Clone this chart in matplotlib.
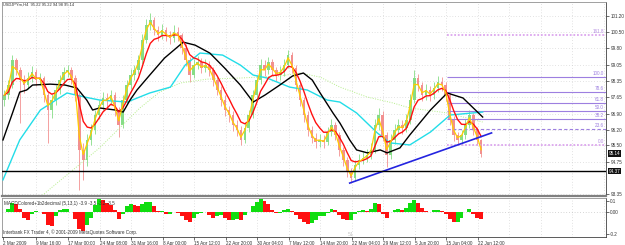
import matplotlib
matplotlib.use('Agg')
import matplotlib.pyplot as plt
import numpy as np
import pandas as pd

plt.rcParams['font.family'] = ['Liberation Sans', 'DejaVu Sans']

# USDJPYm H4, 2 Mar - 22 Jun 2009, bars grouped by four
first_open = 97.50
close = [97.72, 98.16, 99.26, 98.82, 98.38, 98.16, 98.47, 98.73, 98.38, 98.47,
         97.72, 97.06, 97.50, 97.94, 98.38, 98.73, 98.82, 98.47, 97.72, 95.30,
         94.86, 95.74, 96.18, 96.84, 97.28, 97.59, 97.50, 97.72, 97.06, 96.40,
         97.50, 98.16, 98.60, 98.82, 99.26, 100.14, 100.80, 101.02, 100.58, 100.36,
         100.58, 100.36, 100.23, 100.50, 100.36, 99.79, 99.26, 98.60, 99.04, 99.17,
         98.91, 99.04, 98.82, 98.38, 97.94, 97.50, 97.06, 96.84, 96.40, 96.18,
         95.74, 96.27, 96.84, 97.72, 98.38, 99.04, 98.82, 99.17, 98.82, 98.60,
         98.73, 99.04, 99.48, 98.91, 98.16, 97.50, 96.84, 96.18, 95.83, 95.65,
         95.74, 95.65, 96.09, 96.40, 95.96, 95.30, 94.86, 94.33, 94.06, 94.64,
         94.86, 94.94, 95.08, 95.30, 96.40, 96.84, 95.96, 95.08, 95.74, 96.18,
         96.40, 96.27, 96.62, 97.50, 98.47, 98.16, 97.72, 97.94, 97.72, 98.03,
         98.29, 98.16, 97.72, 96.62, 95.96, 95.74, 95.96, 96.40, 96.84, 96.18,
         95.74, 95.14]
high = [97.95, 98.40, 99.48, 99.35, 98.95, 98.60, 98.75, 99.00, 98.85, 98.70,
        98.55, 97.85, 97.75, 98.15, 98.60, 98.95, 99.04, 98.95, 98.60, 97.85,
        95.60, 96.00, 96.45, 97.05, 97.50, 97.85, 97.80, 97.95, 97.85, 97.20,
        97.70, 98.40, 98.85, 99.05, 99.50, 100.40, 101.05, 101.33, 101.15, 100.75,
        100.85, 100.70, 100.55, 100.80, 100.70, 100.45, 99.95, 99.40, 99.30, 99.45,
        99.35, 99.30, 99.20, 98.95, 98.50, 98.10, 97.70, 97.25, 97.00, 96.60,
        96.35, 96.50, 97.05, 97.95, 98.60, 99.30, 99.25, 99.40, 99.30, 98.95,
        99.00, 99.30, 99.70, 99.60, 99.05, 98.30, 97.65, 97.00, 96.35, 96.05,
        96.00, 95.95, 96.30, 96.65, 96.55, 96.10, 95.45, 95.00, 94.50, 94.85,
        95.10, 95.20, 95.35, 95.60, 96.65, 97.15, 97.00, 96.10, 96.00, 96.45,
        96.65, 96.60, 96.90, 97.75, 98.82, 98.65, 98.30, 98.20, 98.10, 98.30,
        98.55, 98.50, 98.30, 97.85, 96.80, 96.10, 96.20, 96.65, 97.05, 96.95,
        96.30, 95.80]
low = [97.25, 97.55, 98.05, 98.60, 96.50, 97.80, 98.00, 98.30, 98.10, 98.15,
       97.40, 95.60, 96.70, 97.30, 97.75, 98.20, 98.50, 98.20, 97.45, 93.53,
       93.98, 94.60, 95.50, 96.00, 96.65, 97.05, 97.20, 97.30, 96.80, 95.87,
       96.25, 97.35, 98.00, 98.40, 98.65, 99.10, 100.00, 100.60, 100.35, 100.10,
       100.20, 100.10, 99.95, 100.05, 100.10, 99.55, 99.00, 98.30, 98.45, 98.85,
       98.70, 98.75, 98.55, 98.10, 97.70, 97.25, 96.80, 96.55, 96.15, 95.90,
       95.52, 95.60, 96.10, 96.70, 97.55, 98.20, 98.55, 98.65, 98.55, 98.35,
       98.40, 98.55, 98.90, 98.70, 97.90, 97.25, 96.55, 95.90, 95.60, 95.40,
       95.45, 95.40, 95.50, 95.90, 95.75, 95.05, 94.60, 94.10, 93.84, 93.95,
       94.45, 94.70, 94.75, 94.90, 95.15, 96.20, 95.70, 94.55, 94.90, 95.55,
       96.00, 96.00, 96.10, 96.45, 97.35, 97.90, 97.45, 97.50, 97.45, 97.55,
       97.85, 97.90, 97.45, 96.40, 95.70, 95.50, 95.55, 95.80, 96.25, 95.95,
       95.50, 94.98]
macd = [0.00, 0.03, 0.08, 0.07, 0.03, -0.05, -0.07, -0.02, 0.01, 0.00,
        -0.02, -0.12, -0.13, -0.04, 0.02, 0.03, 0.03, 0.00, -0.06, -0.15,
        -0.17, -0.12, -0.05, 0.06, 0.12, 0.11, 0.08, 0.06, 0.02, -0.06,
        -0.02, 0.05, 0.07, 0.06, 0.05, 0.07, 0.09, 0.09, 0.05, 0.01,
        0.01, -0.02, -0.02, 0.00, -0.01, -0.04, -0.07, -0.09, -0.05, -0.02,
        -0.01, 0.00, -0.03, -0.05, -0.04, -0.03, -0.05, -0.07, -0.07, -0.06,
        -0.07, -0.03, 0.00, 0.05, 0.09, 0.12, 0.10, 0.07, 0.02, -0.01,
        -0.01, 0.02, 0.03, 0.01, -0.03, -0.06, -0.09, -0.11, -0.10, -0.07,
        -0.04, -0.04, -0.01, 0.03, 0.02, -0.03, -0.06, -0.07, -0.07, -0.02,
        0.01, 0.02, 0.01, 0.03, 0.08, 0.07, -0.02, -0.05, 0.00, 0.02,
        0.03, 0.02, 0.04, 0.08, 0.11, 0.08, 0.04, 0.01, 0.00, 0.02,
        0.02, 0.01, -0.02, -0.06, -0.09, -0.09, -0.05, 0.00, 0.03, -0.02,
        -0.05, -0.06]

# slow moving averages (bar index, price)
black_bar = [0, 10, 17, 24, 30, 48, 63, 75, 85, 91, 98, 114, 122, 129, 136, 149, 164,
             183, 195, 210, 225, 241, 254, 266, 281, 294, 305, 314, 322, 335, 342,
             352, 359, 370, 383, 390, 403, 413, 434, 451, 467, 487]
black_val = [95.74, 96.97, 97.85, 97.94, 98.16, 98.20, 98.16, 98.03, 97.50, 97.06,
             97.15, 97.06, 96.97, 97.50, 97.94, 98.60, 99.35, 100.05, 99.92, 99.57,
             98.91, 98.16, 97.41, 97.72, 98.16, 98.56, 98.69, 98.38, 97.81, 96.93,
             96.49, 95.74, 95.30, 95.17, 95.30, 95.17, 95.39, 95.96, 97.06, 97.81,
             97.59, 96.75]
cyan_bar = [0, 17, 38, 65, 83, 98, 126, 149, 170, 185, 200, 223, 241, 254, 268,
            291, 309, 329, 342, 359, 380, 393, 413, 434, 454, 487]
cyan_val = [93.98, 95.74, 97.06, 97.81, 97.63, 97.50, 97.41, 97.81, 98.07, 99.04,
            99.57, 99.48, 99.04, 98.60, 98.47, 98.07, 97.94, 97.50, 97.41, 96.93,
            96.05, 95.61, 95.52, 96.09, 96.84, 96.97]
slow_bar = [38, 98, 139, 159, 180, 207, 241, 281, 302, 322, 342, 370, 396, 413, 451, 487]
slow_val = [93.23, 95.39, 97.15, 97.85, 98.25, 98.42, 98.47, 98.56, 98.69, 98.51,
            98.07, 97.63, 97.37, 97.15, 96.93, 96.53]

fib_0 = 95.52
fib_100 = 98.51
fib_levels = [0.0, 23.6, 38.2, 50.0, 61.8, 78.6, 100.0, 161.8]
fib_start = 451
trend_bar = [352, 496]
trend_val = [93.84, 96.05]
support = 94.37
last_price = 95.14

time_ticks = [0, 34, 66, 98, 130, 162, 194, 226, 258, 290, 322, 354, 386, 418, 450, 482]
time_labels = ['2 Mar 2009', '9 Mar 16:00', '17 Mar 00:00', '24 Mar 08:00', '31 Mar 16:00',
               '8 Apr 00:00', '15 Apr 12:00', '22 Apr 20:00', '30 Apr 04:00', '7 May 12:00',
               '14 May 20:00', '22 May 04:00', '29 May 12:00', '5 Jun 20:00', '15 Jun 04:00',
               '22 Jun 12:00']
price_ticks = [101.20, 100.50, 99.80, 99.05, 98.35, 97.65, 96.90, 96.20, 95.50, 94.75, 93.35]
macd_ticks = [0.1, 0.0, -0.2]
macd_labels = ['0.1', '0.00', '-0.2']

close = np.array(close)
opens = np.r_[first_open, close[:-1]]
x = np.arange(len(close)) * 4 + 1.5
fast = pd.Series(close).ewm(span=1.6, adjust=False).mean()
mid = pd.Series(close).ewm(span=5.5, adjust=False).mean()

fig = plt.figure(figsize=(6.25, 2.45), dpi=100)
ax = fig.add_axes([2 / 625, 1 - 196 / 245, 604 / 625, 194 / 245])
ax2 = fig.add_axes([2 / 625, 1 - 237 / 245, 604 / 625, 39 / 245])
xlim = (-1.0, 612.2)
fs = 3.3

# grid
grid_x = time_ticks[1:] + [514, 546, 578, 610]
for a in (ax, ax2):
    for gx in grid_x:
        a.axvline(gx, color='#c8c8c8', lw=0.5, ls=(0, (1, 3)), zorder=0)
for p in price_ticks:
    ax.axhline(p, color='#c8c8c8', lw=0.5, ls=(0, (1, 3)), zorder=0)

# price bars
up = close >= opens
colors = np.where(up, '#86dd86', '#f29090')
ax.vlines(x, low, high, colors=colors, lw=0.6, zorder=1)
ax.bar(x, close - opens, bottom=opens, width=2.6, color=colors, lw=0, zorder=1)

ax.plot(slow_bar, slow_val, color='#b5ee8a', lw=0.7, ls=(0, (1, 1.5)), zorder=2)
ax.plot(cyan_bar, cyan_val, color='#22dde8', lw=1.0, zorder=3)
ax.plot(black_bar, black_val, color='black', lw=1.0, zorder=3)
ax.plot(x, mid, color='#ff1010', lw=1.0, zorder=4)
ax.plot(x, fast, color='#ffcc00', lw=0.9, zorder=4)

# fibonacci retracement
for lev in fib_levels:
    p = fib_0 + (fib_100 - fib_0) * lev / 100
    if lev in (0.0, 161.8):
        ax.hlines(p, fib_start, xlim[1], color='#dca6ee', lw=1.3, ls=(0, (1, 1)), zorder=2)
        c = '#b38be0'
    elif lev == 23.6:
        ax.hlines(p, fib_start, xlim[1], color='#9d7fe0', lw=0.8, ls=(0, (3, 2)), zorder=2)
        c = '#9d7fe0'
    else:
        ax.hlines(p, fib_start, xlim[1], color='#9d7fe0', lw=0.8, zorder=2)
        c = '#9d7fe0'
    ax.text(xlim[1] - 2, p + 0.03, f'{lev:.1f}', color=c, fontsize=fs,
            ha='right', va='bottom', zorder=5)

ax.plot(trend_bar, trend_val, color='#2424e0', lw=1.2, zorder=5)
ax.axhline(support, color='black', lw=1.0, zorder=5)

ax.set_xlim(*xlim)
ax.set_ylim(93.27, 101.82)
ax.set_xticks([])
ax.yaxis.tick_right()
ax.set_yticks(price_ticks)
ax.set_yticklabels([f'{p:.2f}' for p in price_ticks])
ax.tick_params(axis='y', labelsize=fs, length=2, width=0.5, pad=1.5, colors='#333333')
for s in ('left', 'top'):
    ax.spines[s].set_color('#909090')
    ax.spines[s].set_linewidth(0.6)
ax.spines['right'].set_color('#404040')
ax.spines['right'].set_linewidth(0.6)
ax.spines['bottom'].set_color('#808080')
ax.spines['bottom'].set_linewidth(1.6)

tr = ax.get_yaxis_transform()
for val in (last_price, support):
    ax.text(1.004, val, f'{val:.2f}', transform=tr, fontsize=fs, color='white',
            ha='left', va='center', zorder=6, clip_on=False,
            bbox=dict(facecolor='#101010', edgecolor='none', pad=0.6))

fig.text(3 / 625, 1 - 5 / 245, 'USDJPYm,H4  95.22 95.22 94.98 95.14', fontsize=2.9,
         color='#333333', ha='left', va='center')

# MACD pane
m = np.array(macd)
rising = np.r_[True, m[1:] >= m[:-1]]
ax2.bar(x, m, width=4.0, color=np.where(rising, '#10dd10', '#ff1010'), lw=0, zorder=2)
ax2.axhline(0, color='#b0b0b0', lw=0.5, ls=(0, (1, 3)), zorder=1)
ax2.set_xlim(*xlim)
ax2.set_ylim(-0.227, 0.127)
ax2.yaxis.tick_right()
ax2.set_yticks(macd_ticks)
ax2.set_yticklabels(macd_labels)
ax2.set_xticks(time_ticks)
ax2.set_xticklabels(time_labels, ha='left')
ax2.tick_params(axis='both', labelsize=fs, length=2, width=0.5, pad=1.0, colors='#333333')
ax2.tick_params(axis='x', pad=0.8)
for s in ('left', 'top'):
    ax2.spines[s].set_color('#909090')
    ax2.spines[s].set_linewidth(0.6)
for s in ('right', 'bottom'):
    ax2.spines[s].set_color('#404040')
    ax2.spines[s].set_linewidth(0.6)
ax2.text(0.004, 0.93, 'MACDColored+1b2decimal (5,13,1) -3.9 -3.5 -3.2 -3.5',
         transform=ax2.transAxes, fontsize=fs, color='#333333', va='top')
ax2.text(0.002, 0.04, 'Interbank FX Trader 4, \u00a9 2001-2009 MetaQuotes Software Corp.',
         transform=ax2.transAxes, fontsize=fs, color='#333333', va='bottom')
ax2.text(350, -0.2, '51', fontsize=fs + 0.5, color='#c4c4c4', va='center')

fig.savefig('out.png', dpi=100, facecolor='white')
